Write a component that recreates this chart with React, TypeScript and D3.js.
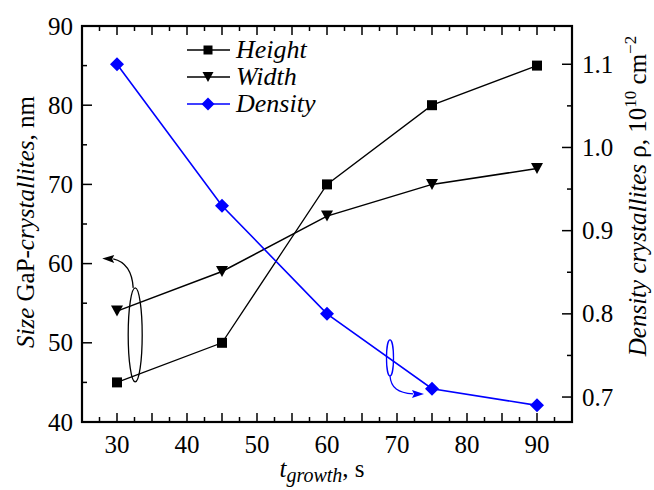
import React from 'react'
import * as d3 from 'd3'

// growth time, s
const times = [30, 45, 60, 75, 90]
// crystallite size, nm
const heightNm = [45, 50, 70, 80, 85]
const widthNm = [54, 59, 66, 70, 72]
// density, 10^10 cm^-2
const density = [1.1, 0.93, 0.8, 0.71, 0.69]

const xTickLabels = [30, 40, 50, 60, 70, 80, 90]
const leftTickLabels = [40, 50, 60, 70, 80, 90]
const rightTickLabels = [0.7, 0.8, 0.9, 1.0, 1.1]

const W = 654
const H = 490
const M = {left: 82, right: 572, top: 26, bottom: 422}
const SERIF = 'Liberation Serif'
const TS = {fontFamily: SERIF}
const TI = {fontFamily: SERIF, fontStyle: 'italic'}
const BLUE = '#0000ff'

const x = d3.scaleLinear().domain([25, 95]).range([M.left, M.right])
const yL = d3.scaleLinear().domain([40, 90]).range([M.bottom, M.top])
const yR = d3.scaleLinear().domain([0.67, 1.146]).range([M.bottom, M.top])

const squarePath = (s: number) => `M${-s / 2},${-s / 2}h${s}v${s}h${-s}Z`
const triPath = (w: number, h: number) => `M${-w / 2},${-h / 2}L${w / 2},${-h / 2}L0,${h / 2}Z`
const diamondPath = (r: number) => `M0,${-r}L${r},0L0,${r}L${-r},0Z`

function ticks(lo: number, hi: number, step: number) {
  return d3.range(lo, hi + step / 2, step).map((v) => +v.toFixed(4))
}

export default function App() {
  const hLine = d3.line<number>().x((_, i) => x(times[i])).y((d) => yL(d))
  const dLine = d3.line<number>().x((_, i) => x(times[i])).y((d) => yR(d))

  const xMinor = ticks(27.5, 92.5, 5)
  const xMajor = ticks(30, 90, 5)
  const lMinor = ticks(45, 85, 10)
  const rMinor = ticks(0.75, 1.15, 0.1).filter((v) => v < 1.146)

  // annotation ellipses
  const ecx = x(32.6)
  const ecy = yL(51)
  const erx = 7
  const ery = 47
  const etop = ecy - ery
  const bcx = x(69)
  const bcy = yR(0.747)
  const brx = 3.5
  const bry = 18
  const bbot = bcy + bry

  const legendRows = [
    {label: 'Height', color: '#000', marker: squarePath(9), y: 50},
    {label: 'Width', color: '#000', marker: triPath(11, 10), y: 77},
    {label: 'Density', color: BLUE, marker: diamondPath(6.5), y: 104},
  ]

  return (
    <svg width={W} height={H} style={{position: 'absolute', left: 0, top: 0, background: '#fff'}}>
      <style>{`text, tspan { font-family: 'Liberation Serif'; }`}</style>
      {/* ticks */}
      <g stroke="#000" strokeWidth={1.5}>
        {xMajor.map((v) => (
          <g key={'xm' + v}>
            <line x1={x(v)} x2={x(v)} y1={M.bottom} y2={M.bottom - 9} />
            <line x1={x(v)} x2={x(v)} y1={M.top} y2={M.top + 9} />
          </g>
        ))}
        {xMinor.map((v) => (
          <g key={'xn' + v}>
            <line x1={x(v)} x2={x(v)} y1={M.bottom} y2={M.bottom - 5} />
            <line x1={x(v)} x2={x(v)} y1={M.top} y2={M.top + 5} />
          </g>
        ))}
        {leftTickLabels.map((v) => (
          <line key={'lm' + v} x1={M.left} x2={M.left + 10} y1={yL(v)} y2={yL(v)} />
        ))}
        {lMinor.map((v) => (
          <line key={'ln' + v} x1={M.left} x2={M.left + 5} y1={yL(v)} y2={yL(v)} />
        ))}
        {rightTickLabels.map((v) => (
          <line key={'rm' + v} x1={M.right} x2={M.right - 10} y1={yR(v)} y2={yR(v)} />
        ))}
        {rMinor.map((v) => (
          <line key={'rn' + v} x1={M.right} x2={M.right - 5} y1={yR(v)} y2={yR(v)} />
        ))}
      </g>
      <rect x={M.left} y={M.top} width={M.right - M.left} height={M.bottom - M.top} fill="none" stroke="#000" strokeWidth={2.2} />

      {/* tick labels */}
      {xTickLabels.map((v) => (
        <text key={'xl' + v} style={TS} fontSize={25} x={x(v)} y={453} textAnchor="middle">{String(v)}</text>
      ))}
      {leftTickLabels.map((v) => (
        <text key={'ll' + v} style={TS} fontSize={25} x={M.left - 9} y={yL(v) + 8.5} textAnchor="end">{String(v)}</text>
      ))}
      {rightTickLabels.map((v) => (
        <text key={'rl' + v} style={TS} fontSize={25} x={M.right + 10} y={yR(v) + 8.5} textAnchor="start">{v.toFixed(1)}</text>
      ))}

      {/* axis titles */}
      <text style={TS} fontSize={25} transform={`translate(34,${(M.top + M.bottom) / 2 - 2}) rotate(-90)`} textAnchor="middle">
        <tspan style={TI}>Size</tspan> GaP-<tspan style={TI}>crystallites</tspan>, nm
      </text>
      <text style={TS} fontSize={25} transform={`translate(646,196) rotate(-90)`} textAnchor="middle">
        <tspan style={TI}>Density crystallites</tspan> ρ, 10<tspan dy={-10} fontSize={17}>10</tspan>
        <tspan dy={10}> cm</tspan><tspan dy={-10} fontSize={17}>−2</tspan>
      </text>
      <text style={TS} fontSize={25} x={322} y={477} textAnchor="middle">
        <tspan style={TI}>t</tspan><tspan style={TI} fontSize={20} dy={5}>growth</tspan>
        <tspan dy={-5}>, s</tspan>
      </text>

      {/* series */}
      <path d={hLine(heightNm) || ''} fill="none" stroke="#000" strokeWidth={1.3} />
      <path d={hLine(widthNm) || ''} fill="none" stroke="#000" strokeWidth={1.5} />
      <path d={dLine(density) || ''} fill="none" stroke={BLUE} strokeWidth={1.6} />
      {heightNm.map((d, i) => (
        <path key={'h' + i} d={squarePath(10)} transform={`translate(${x(times[i])},${yL(d)})`} fill="#000" />
      ))}
      {widthNm.map((d, i) => (
        <path key={'w' + i} d={triPath(12, 11)} transform={`translate(${x(times[i])},${yL(d)})`} fill="#000" />
      ))}
      {density.map((d, i) => (
        <path key={'d' + i} d={diamondPath(7)} transform={`translate(${x(times[i])},${yR(d)})`} fill={BLUE} />
      ))}

      {/* annotations */}
      <ellipse cx={ecx} cy={ecy} rx={erx} ry={ery} fill="none" stroke="#000" strokeWidth={1.3} />
      <path
        d={`M${ecx - 2},${etop}C${ecx - 3},${etop - 16} ${ecx - 9},${etop - 26} ${ecx - 22},${etop - 29}`}
        fill="none"
        stroke="#000"
        strokeWidth={1.3}
      />
      <path d={`M${ecx - 33},${etop - 29.5}L${ecx - 21},${etop - 33}L${ecx - 23},${etop - 29}L${ecx - 21},${etop - 25}Z`} fill="#000" />
      <ellipse cx={bcx} cy={bcy} rx={brx} ry={bry} fill="none" stroke={BLUE} strokeWidth={1.3} />
      <path
        d={`M${bcx},${bbot}C${bcx + 1},${bbot + 12} ${bcx + 8},${bbot + 17} ${bcx + 23},${bbot + 18}`}
        fill="none"
        stroke={BLUE}
        strokeWidth={1.3}
      />
      <path d={`M${bcx + 34},${bbot + 18}L${bcx + 22},${bbot + 14}L${bcx + 24},${bbot + 18}L${bcx + 22},${bbot + 22}Z`} fill={BLUE} />

      {/* legend */}
      {legendRows.map((r) => (
        <g key={r.label}>
          <line x1={187} x2={230} y1={r.y} y2={r.y} stroke={r.color} strokeWidth={1.3} />
          <path d={r.marker} transform={`translate(208,${r.y})`} fill={r.color} />
          <text style={TI} x={236} y={r.y + 8} fontSize={26}>{r.label}</text>
        </g>
      ))}
    </svg>
  )
}
